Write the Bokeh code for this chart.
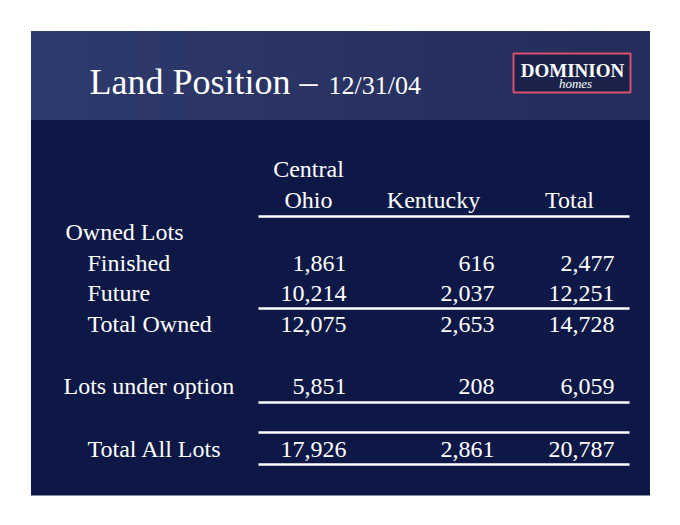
import numpy as np
from bokeh.plotting import figure
from bokeh.models import Range1d
from bokeh.core.properties import value
from bokeh.embed import file_html
from bokeh.resources import INLINE

# ---- data ----
title_main = "Land Position \u2013"
title_date = "12/31/04"
col_header_top = ["Central", "", ""]
col_headers = ["Ohio", "Kentucky", "Total"]
row_labels = ["Owned Lots", "Finished", "Future", "Total Owned", "Lots under option", "Total All Lots"]
central_ohio = [None, 1861, 10214, 12075, 5851, 17926]
kentucky = [None, 616, 2037, 2653, 208, 2861]
total = [None, 2477, 12251, 14728, 6059, 20787]

# ---- layout (screen pixel coordinates) ----
W, H = 664, 509
p = figure(width=W, height=H, output_backend="svg", toolbar_location=None,
           x_range=Range1d(0, W), y_range=Range1d(H, 0),
           min_border=0)
p.axis.visible = False
p.grid.visible = False
p.outline_line_color = None
p.background_fill_color = "white"
p.border_fill_color = "white"

SL, SR, ST, SB = 30.5, 649.5, 30.5, 495.0
HB = 119.5

# body
p.quad(left=[SL], right=[SR], top=[HB], bottom=[SB], fill_color="#0e1846", line_color=None)
# header gradient
p.quad(left=[SL], right=[SR], top=[ST], bottom=[HB], fill_color="#29346a", line_color=None)
n = 24
edges = np.linspace(SL, SR, n + 1)
c0 = np.array([47, 59, 109]); c1 = np.array([36, 45, 91])
cols = ["#%02x%02x%02x" % tuple((c0 + (c1 - c0) * t).astype(int)) for t in np.linspace(0, 1, n)]
rights = np.minimum(edges[1:] + 3, SR)
p.quad(left=edges[:-1], right=rights, top=[ST] * n, bottom=[HB] * n,
       fill_color=cols, line_color=None)

serif = value("Liberation Serif")
K = 0.385  # baseline correction (em)


def txt(x, y, t, size, align="left", style="normal"):
    p.text(x=x, y=[b - K * size for b in y], text=t, text_font=serif,
           text_font_size=f"{size}px", text_font_style=style, text_color="white",
           text_baseline="alphabetic", text_align=align)


# title
txt([89], [95], [title_main], 36)
txt([328], [95], [title_date], 26)

# logo
p.quad(left=[513], right=[630], top=[53], bottom=[92], fill_color="#1b2249",
       line_color="#d9506f", line_width=2)
txt([572], [77], ["DOMINION"], 19, align="center", style="bold")
txt([575], [88], ["homes"], 13, align="center", style="italic")

# column headers
col_right = [346, 494, 614]
col_center = [308, 433, 569]
txt(col_center, [178] * 3, col_header_top, 24, align="center")
txt(col_center, [209] * 3, col_headers, 24, align="center")

# rows
row_y = [241, 272, 302, 333, 395, 458]
row_x = [65, 87, 87, 87, 63, 87]
txt(row_x, row_y, row_labels, 24)

for series, xr in zip([central_ohio, kentucky, total], col_right):
    ys = [y for y, v in zip(row_y, series) if v is not None]
    labels = ["{:,}".format(v) for v in series if v is not None]
    txt([xr] * len(ys), ys, labels, 24, align="right")

# rules
line_y = [216, 308, 402, 432, 464]
p.segment(x0=[258] * 5, x1=[629] * 5, y0=line_y, y1=line_y, line_color="white", line_width=2.5)

open("out.html", "w").write(file_html(p, INLINE))
